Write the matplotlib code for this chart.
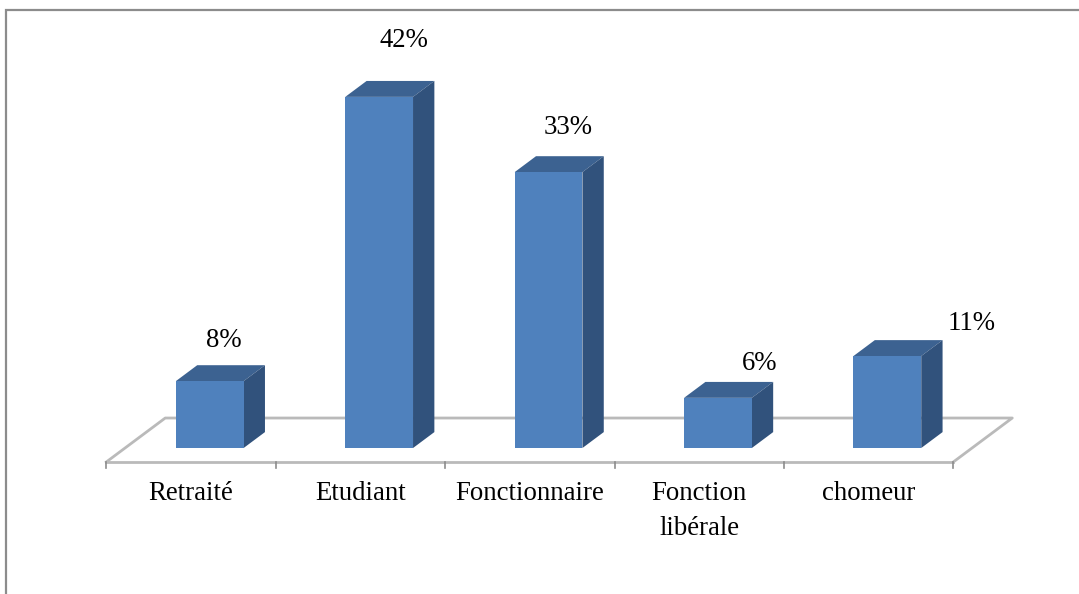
import matplotlib
matplotlib.use('Agg')
import matplotlib.pyplot as plt
from matplotlib.patches import Polygon

plt.rcParams['font.family'] = ['Liberation Serif', 'DejaVu Serif']

categories = ['Retraité', 'Etudiant', 'Fonctionnaire', 'Fonction\nlibérale', 'chomeur']
values = [8, 42, 33, 6, 11]
value_labels = ['8%', '42%', '33%', '6%', '11%']

# decalage des etiquettes par rapport au haut de la barre (pixels)
label_offsets = [(-7, 25), (3, 40), (-2, 29), (20, 18), (63, 17)]

# decalage oblique pour la profondeur (unites de l'axe)
DEPTH_X = 0.348
DEPTH_Y = 5.26
BAR_W = 0.4
D0, D1 = 0.318, 0.68

FRONT = '#4F81BD'
TOP = '#3C6291'
SIDE = '#31527C'
FLOOR = '#BABABA'


def proj(x, z, d):
    return x + d * DEPTH_X, z + d * DEPTH_Y


fig = plt.figure(figsize=(10.79, 5.94), dpi=100)
ax = fig.add_axes([0, 0, 1, 1])
ax.set_xlim(-1.1275, 5.242)
ax.set_ylim(-15.79, 55.26)
ax.axis('off')

# cadre (haut et gauche seulement, l'image est coupee ailleurs)
ax.plot([0.0052, 0.0052, 1], [0, 0.983, 0.983], transform=ax.transAxes,
        color='#8C8C8C', linewidth=1.6, solid_joinstyle='miter')

# sol
n = len(categories)
left, right = -0.5, n - 0.5
floor_pts = [proj(left, 0, 0), proj(left, 0, 1), proj(right, 0, 1), proj(right, 0, 0)]
ax.plot(*zip(*floor_pts), color=FLOOR, linewidth=2, zorder=1)
ax.plot([left, right], [0, 0], color=FLOOR, linewidth=2, zorder=1)
for i in range(n + 1):
    ax.plot([left + i, left + i], [0, -0.7], color='#8C8C8C', linewidth=1.2, zorder=1)

# barres
for i, v in enumerate(values):
    x0, x1 = i - BAR_W / 2, i + BAR_W / 2
    ax.add_patch(Polygon([proj(x0, v, D0), proj(x1, v, D0), proj(x1, v, D1), proj(x0, v, D1)],
                         facecolor=TOP, edgecolor='none', zorder=3))
    ax.add_patch(Polygon([proj(x1, 0, D0), proj(x1, v, D0), proj(x1, v, D1), proj(x1, 0, D1)],
                         facecolor=SIDE, edgecolor='none', zorder=3))
    ax.add_patch(Polygon([proj(x0, 0, D0), proj(x1, 0, D0), proj(x1, v, D0), proj(x0, v, D0)],
                         facecolor=FRONT, edgecolor='none', zorder=4))
    ax.annotate(value_labels[i], proj(i, v, D1), xytext=label_offsets[i], textcoords='offset pixels',
                ha='center', va='center', fontsize=19.3, color='black', zorder=5)

for i, c in enumerate(categories):
    ax.text(i, -2.3, c, ha='center', va='top', fontsize=19.3, color='black', linespacing=1.5)

fig.savefig('out.png', dpi=100)
